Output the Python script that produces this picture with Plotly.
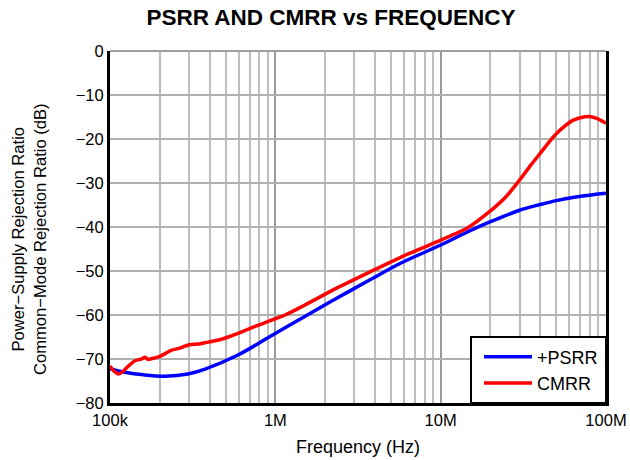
import plotly.graph_objects as go

# --- data ---
psrr_freq = [1.0e5, 1.23e5, 1.6e5, 2.15e5, 2.96e5, 3.76e5, 5.94e5, 9.29e5, 1.48e6, 2.35e6,
             3.74e6, 5.68e6, 1.0e7, 1.44e7, 2.0e7, 3.0e7, 4.0e7, 5.0e7, 7.0e7, 1.0e8]
psrr_db = [-72.2, -73.0, -73.6, -73.9, -73.4, -72.3, -69.1, -64.9, -60.5, -56.2,
           -52.0, -48.3, -44.1, -41.2, -38.8, -36.2, -34.9, -34.0, -33.0, -32.3]

cmrr_freq = [1.0e5, 1.06e5, 1.12e5, 1.2e5, 1.3e5, 1.42e5, 1.55e5, 1.63e5, 1.7e5, 1.8e5,
             2.0e5, 2.36e5, 2.6e5, 2.98e5, 3.4e5, 3.76e5, 4.74e5, 5.94e5, 7.53e5, 9.29e5,
             1.145e6, 1.48e6, 2.35e6, 3.74e6, 5.94e6, 1.0e7, 1.44e7, 1.99e7, 2.5e7, 3.02e7,
             3.5e7, 3.99e7, 4.5e7, 5.04e7, 5.7e7, 6.35e7, 7.1e7, 7.82e7, 8.79e7, 1.0e8]
cmrr_db = [-71.6, -72.8, -73.4, -72.8, -71.5, -70.4, -70.0, -69.6, -70.1, -69.9,
           -69.4, -68.0, -67.6, -66.8, -66.6, -66.3, -65.5, -64.2, -62.6, -61.3,
           -60.0, -57.9, -53.9, -50.2, -46.6, -43.0, -40.3, -36.4, -33.0, -29.2,
           -26.0, -23.3, -20.8, -18.7, -16.9, -15.7, -15.1, -14.9, -15.3, -16.4]

x_tickvals = [1e5, 1e6, 1e7, 1e8]
x_ticktext = ["100k", "1M", "10M", "100M"]
x_minor = [m * 10 ** d for d in (5, 6, 7) for m in range(2, 10)]
y_tickvals = [0, -10, -20, -30, -40, -50, -60, -70, -80]
y_ticktext = ["0", "\u221210", "\u221220", "\u221230", "\u221240", "\u221250", "\u221260", "\u221270", "\u221280"]

FONT = "Liberation Sans, Arial, sans-serif"
W, H = 630, 460
L, R, T, B = 110, 24, 51, 57
PW, PH = W - L - R, H - T - B

fig = go.Figure()
fig.add_trace(go.Scatter(x=psrr_freq, y=psrr_db, mode="lines", name="+PSRR",
                         line=dict(color="#0000ff", width=3.5, shape="spline", smoothing=1.0)))
fig.add_trace(go.Scatter(x=cmrr_freq, y=cmrr_db, mode="lines", name="CMRR",
                         line=dict(color="#ff0000", width=3.5, shape="spline", smoothing=0.6)))

# legend frame (white box with black border, bottom-right of plot)
lx0 = (471 - L) / PW
ly1 = (403 - 337) / PH
fig.add_shape(type="rect", xref="paper", yref="paper", x0=lx0, x1=1, y0=0, y1=ly1,
              line=dict(color="black", width=2), fillcolor="white", layer="above")

fig.update_layout(
    width=W, height=H,
    margin=dict(l=L, r=R, t=T, b=B, autoexpand=False),
    paper_bgcolor="white", plot_bgcolor="white",
    font=dict(family=FONT, size=16, color="black"),
    title=dict(text="<b>PSRR AND CMRR vs FREQUENCY</b>", x=331 / W, xanchor="center",
               y=1 - 17 / H, yanchor="middle", font=dict(size=22.5, family=FONT)),
    showlegend=True,
    legend=dict(x=(479 - L) / PW, xanchor="left", y=ly1 / 2, yanchor="middle",
                borderwidth=0, bgcolor="rgba(0,0,0,0)",
                font=dict(size=18, family=FONT), tracegroupgap=0, itemwidth=48),
    annotations=[
        dict(text="Power\u2212Supply Rejection Ratio<br>Common\u2212Mode Rejection Ratio (dB)",
             xref="paper", yref="paper", x=-(L - 29) / PW, y=(403 - 239) / PH, textangle=-90,
             showarrow=False, xanchor="center", yanchor="middle",
             font=dict(size=16.6, family=FONT)),
        dict(text="Frequency (Hz)", xref="paper", yref="paper", x=0.5, y=-(447 - 403) / PH,
             showarrow=False, xanchor="center", yanchor="middle",
             font=dict(size=18, family=FONT)),
    ],
)

fig.update_xaxes(
    type="log", range=[5, 8], automargin=False,
    tickvals=x_tickvals, ticktext=x_ticktext, ticks="",
    showgrid=True, gridcolor="#9a9a9a", gridwidth=1.5,
    minor=dict(tickvals=x_minor, showgrid=True, gridcolor="#bdbdbd", gridwidth=1.5, ticks=""),
    showline=True, linecolor="black", linewidth=3, mirror=False,
    tickfont=dict(size=16.5),
)
fig.update_yaxes(
    range=[-80, 0], automargin=False,
    tickvals=y_tickvals, ticktext=y_ticktext, ticks="",
    showgrid=True, gridcolor="#b0b0b0", gridwidth=1.5,
    zeroline=True, zerolinecolor="#a0a0a0", zerolinewidth=1.5,
    showline=True, linecolor="black", linewidth=3, mirror=True,
    tickfont=dict(size=16.5),
)

fig.write_html("out.html", config={"displayModeBar": False},
               post_script="document.body.style.margin='0';")
